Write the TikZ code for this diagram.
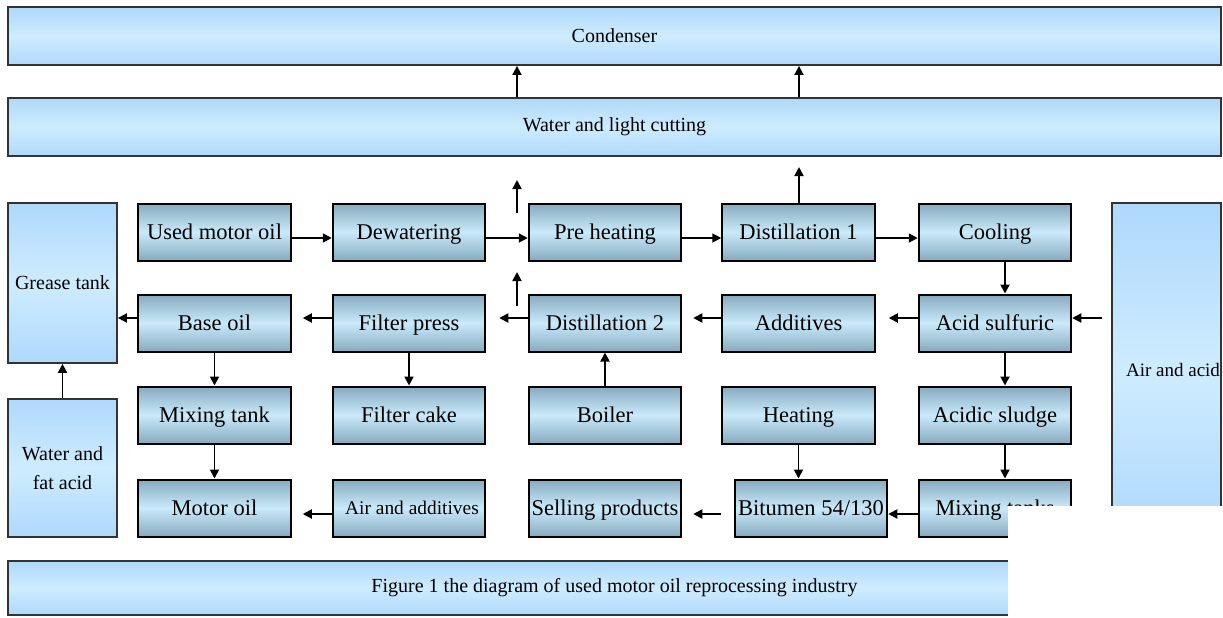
\documentclass[tikz,border=0pt]{standalone}
\usepackage{fontspec}
\setmainfont{Liberation Serif}
\usetikzlibrary{arrows.meta}
\definecolor{pEdge}{RGB}{80,98,112}
\definecolor{pDark}{RGB}{98,120,136}
\definecolor{pMid}{RGB}{148,183,203}
\definecolor{pLight}{RGB}{202,234,250}
\definecolor{bEdge}{RGB}{120,165,210}
\definecolor{bDark}{RGB}{156,205,249}
\definecolor{bMid}{RGB}{175,216,252}
\definecolor{bLight}{RGB}{206,236,255}
\pgfdeclareverticalshading{procshade}{100bp}{color(0bp)=(pEdge); color(8bp)=(pDark); color(30bp)=(pMid); color(50bp)=(pLight); color(70bp)=(pMid); color(92bp)=(pDark); color(100bp)=(pEdge)}
\pgfdeclareverticalshading{blueshade}{100bp}{color(0bp)=(bEdge); color(5bp)=(bDark); color(25bp)=(bMid); color(50bp)=(bLight); color(75bp)=(bMid); color(95bp)=(bDark); color(100bp)=(bDark)}
\tikzset{
  proc/.style={draw=black, line width=1pt, shade, shading=procshade,
    minimum width=76.25pt, minimum height=28.5pt, inner sep=0pt,
    text height=9.5pt, text depth=2pt,
    font=\fontsize{11.25}{13}\selectfont, text=black},
  bluebox/.style={draw=black!80, line width=0.9pt, shade, shading=blueshade,
    inner sep=0pt, align=center, font=\fontsize{10}{14.5}\selectfont, text=black},
  arr/.style={line width=0.9pt, -{Triangle[length=4.5pt,width=4.5pt]}}
}
\begin{document}
\begin{tikzpicture}[x=0.5pt,y=-0.5pt]
\useasboundingbox[fill=white] (0,0) rectangle (1223,617);
% long boxes
\node[bluebox, minimum width=606.5pt, minimum height=29pt] (cd) at (614.5,36) {Condenser};
\node[bluebox, minimum width=606.5pt, minimum height=29pt] (wl) at (614.5,127) {Water and light cutting};
\node[bluebox, minimum width=606.5pt, minimum height=27pt] (cap) at (614.5,588) {Figure 1 the diagram of used motor oil reprocessing industry};
% side boxes
\node[bluebox, minimum width=54.5pt, minimum height=80pt] (gt) at (62.5,283) {Grease tank};
\node[bluebox, minimum width=54.5pt, minimum height=69pt] (wf) at (62.5,468) {Water and\\fat acid};
\node[bluebox, minimum width=54.5pt, minimum height=167pt] (aa) at (1166.5,370) {};
\node[font=\fontsize{9.5}{12}\selectfont, inner sep=0pt] (aat) at (1173,370) {Air and acid};
% process boxes
\node[proc] (um) at (214.5,232) {Used motor oil};
\node[proc] (dw) at (409,232) {Dewatering};
\node[proc] (ph) at (605,232) {Pre heating};
\node[proc] (d1) at (798.5,232) {Distillation 1};
\node[proc] (co) at (995,232) {Cooling};
\node[proc] (bo) at (214.5,323) {Base oil};
\node[proc] (fp) at (409,323) {Filter press};
\node[proc] (d2) at (605,323) {Distillation 2};
\node[proc] (ad) at (798.5,323) {Additives};
\node[proc] (as) at (995,323) {Acid sulfuric};
\node[proc] (mt) at (214.5,415) {Mixing tank};
\node[proc] (fc) at (409,415) {Filter cake};
\node[proc] (bl) at (605,415) {Boiler};
\node[proc] (ht) at (798.5,415) {Heating};
\node[proc] (sl) at (995,415) {Acidic sludge};
\node[proc] (mo) at (214.5,508) {Motor oil};
\node[proc, font=\fontsize{9.7}{12}\selectfont, text height=8.5pt, text depth=2pt] (aad) at (409,508) {\hspace*{3pt}Air and additives};
\node[proc] (sp) at (605,508) {Selling products};
\node[proc] (bt) at (811,508) {Bitumen 54/130};
\node[proc] (mk) at (995,508) {Mixing tanks};
% coordinates
\coordinate (xa) at (517,0);
\coordinate (xb) at (799,0);
\coordinate (f1a) at (517,213);
\coordinate (f1b) at (517,180);
\coordinate (f2a) at (517,306);
\coordinate (f2b) at (517,272);
\coordinate (f3b) at (799,167);
% arrows to condenser
\draw[arr] (wl.north -| xa) -- (cd.south -| xa);
\draw[arr] (wl.north -| xb) -- (cd.south -| xb);
\draw[arr] (f1a) -- (f1b);
\draw[arr] (f2a) -- (f2b);
\draw[arr] (d1.north -| xb) -- (f3b);
% row 1
\draw[arr] ([yshift=-3pt]um.east) -- ([yshift=-3pt]dw.west);
\draw[arr] ([yshift=-3pt]dw.east) -- ([yshift=-3pt]ph.west);
\draw[arr] ([yshift=-3pt]ph.east) -- ([yshift=-3pt]d1.west);
\draw[arr] ([yshift=-3pt]d1.east) -- ([yshift=-3pt]co.west);
% row 2
\draw[arr, shorten <=4.5pt] ([yshift=2.5pt]aa.west |- as.east) -- ([yshift=2.5pt]as.east);
\draw[arr, shorten >=6.5pt] ([yshift=2.5pt]as.west) -- ([yshift=2.5pt]ad.east);
\draw[arr, shorten >=5.5pt] ([yshift=2.5pt]ad.west) -- ([yshift=2.5pt]d2.east);
\draw[arr, shorten >=6.5pt] ([yshift=2.5pt]d2.west) -- ([yshift=2.5pt]fp.east);
\draw[arr, shorten >=5.5pt] ([yshift=2.5pt]fp.west) -- ([yshift=2.5pt]bo.east);
\draw[arr] ([yshift=2.5pt]bo.west) -- ([yshift=2.5pt]bo.west -| gt.east);
% row 4
\draw[arr, shorten >=5.5pt] ([yshift=-3pt]aad.west) -- ([yshift=-3pt]mo.east);
\draw[arr, shorten <=6.5pt, shorten >=5.5pt] ([yshift=-3pt]bt.west) -- ([yshift=-3pt]sp.east);
\draw[arr] ([yshift=-3pt]mk.west) -- ([yshift=-3pt]bt.east);
% verticals
\draw[arr] ([xshift=5pt]co.south) -- ([xshift=5pt]as.north);
\draw[arr] ([xshift=5pt]as.south) -- ([xshift=5pt]sl.north);
\draw[arr] ([xshift=5pt]sl.south) -- ([xshift=5pt]mk.north);
\draw[arr] (bo.south) -- (mt.north);
\draw[arr] (mt.south) -- (mo.north);
\draw[arr] (fp.south) -- (fc.north);
\draw[arr] (bl.north) -- (d2.south);
\draw[arr] (ht.south) -- (ht.south |- bt.north);
\draw[arr] (wf.north) -- (gt.south);
% white patch
\fill[white] (1008,506) rectangle (1223,617);
\end{tikzpicture}
\end{document}
